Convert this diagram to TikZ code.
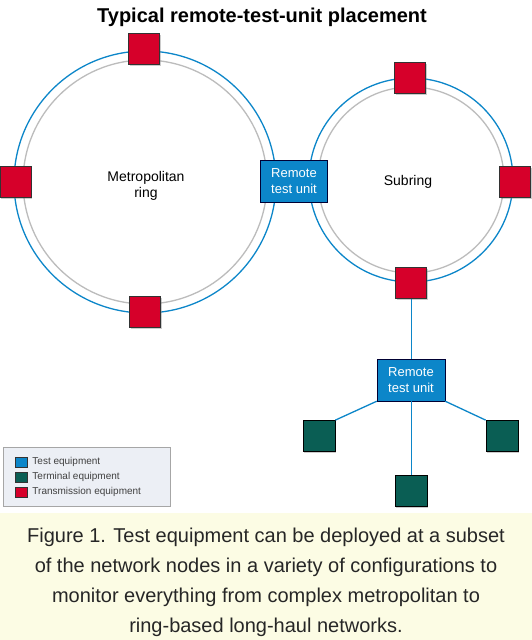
\documentclass[tikz,border=0pt]{standalone}
\usepackage{fontspec}
\setmainfont{Liberation Sans}
\usetikzlibrary{shadows}
\definecolor{testblue}{RGB}{12,134,201}
\definecolor{termgreen}{RGB}{10,94,84}
\definecolor{transred}{RGB}{214,0,42}
\definecolor{ringgray}{RGB}{188,188,188}
\definecolor{capyellow}{RGB}{252,252,228}
\definecolor{legendbg}{RGB}{236,239,245}
\tikzstyle{link} = [testblue, line width=1.3pt]
\tikzstyle{ringBlue} = [circle, draw=testblue, line width=1.3pt, inner sep=0pt]
\tikzstyle{ringGray} = [circle, draw=ringgray, line width=1.3pt, inner sep=0pt]
\tikzstyle{transSq} = [rectangle, draw=black!80, fill=transred, minimum size=31pt, inner sep=0pt, line width=0.6pt, drop shadow={shadow xshift=1pt, shadow yshift=-1pt, opacity=0.4}]
\tikzstyle{termSq} = [rectangle, draw=black, fill=termgreen, minimum width=32pt, minimum height=31pt, inner sep=0pt, line width=0.8pt, drop shadow={shadow xshift=1pt, shadow yshift=-1pt, opacity=0.4}]
\tikzstyle{rtu} = [rectangle, draw=black!80!blue, fill=testblue, minimum width=67pt, minimum height=42pt, inner sep=0pt, text=white, align=center, font={\fontsize{13}{16}\selectfont}]
\tikzstyle{swatch} = [rectangle, draw=black!80, minimum width=12pt, minimum height=10pt, inner sep=0pt, line width=0.5pt]
\tikzstyle{keyText} = [right, inner sep=0pt, xshift=5pt, text=black!75, font={\fontsize{10}{12}\selectfont}]

\begin{document}
\begin{tikzpicture}[x=1pt, y=-1pt]
				\useasboundingbox (0,0) rectangle (532,640);
				\fill [white] (0,0) rectangle (532,640);
				\fill [capyellow] (0,513) rectangle (532,640);
				\node (title) [anchor=base, font={\fontsize{20}{24}\selectfont\bfseries}] at (262,22) {Typical remote-test-unit placement};
				\node (metroOut) [ringBlue, minimum size=262pt] at (145,182) {};
				\node (metroIn) [ringGray, minimum size=244pt] at (145,182) {};
				\node (subOut) [ringBlue, minimum size=204pt] at (411,180) {};
				\node (subIn) [ringGray, minimum size=186pt] at (411,180) {};
				\node (metroLabel) [align=center, font={\fontsize{14}{16}\selectfont}] at (146,186) {Metropolitan\\ring};
				\node (subLabel) [font={\fontsize{14}{16}\selectfont}] at (408,182) {Subring};
				\node (metroTop) [transSq] at (144,49) {};
				\node (metroLeft) [transSq] at (15.5,182) {};
				\node (metroBot) [transSq] at (145,312) {};
				\node (subTop) [transSq] at (410,78) {};
				\node (subRight) [transSq] at (515,182) {};
				\node (subBot) [transSq] at (411,283) {};
				\node (rtuRing) [rtu] at (294,181) {Remote\\test unit};
				\node (rtuSpur) [rtu, minimum width=68pt] at (411,380) {Remote\\test unit};
				\node (termLeft) [termSq] at (319,436) {};
				\node (termRight) [termSq] at (502,436) {};
				\node (termBot) [termSq] at (411,491) {};
				\draw [link, line width=0.9pt] (subBot) -- (rtuSpur);
				\draw [link] (rtuSpur.south west) -- (termLeft.north east);
				\draw [link] (rtuSpur.south east) -- (termRight.north west);
				\draw [link, line width=0.9pt] (rtuSpur) -- (termBot);
				\node (legend) [rectangle, draw=gray!70, line width=1pt, fill=legendbg, minimum width=167pt, minimum height=59pt, inner sep=0pt] at (86.5,476.5) {};
				\node (keyTest) [swatch, fill=testblue] at (21,462) {};
				\node (keyTerm) [swatch, fill=termgreen] at (21,477) {};
				\node (keyTrans) [swatch, fill=transred] at (21,492) {};
				\node [keyText] at (keyTest.east) {Test equipment};
				\node [keyText] at (keyTerm.east) {Terminal equipment};
				\node [keyText] at (keyTrans.east) {Transmission equipment};
				\node (caption) [align=center, text=black!85, font={\fontsize{20}{30}\selectfont}] at (266,582) {Figure 1. Test equipment can be deployed at a subset\\of the network nodes in a variety of configurations to\\monitor everything from complex metropolitan to\\ring-based long-haul networks.};
			\end{tikzpicture}
\end{document}
